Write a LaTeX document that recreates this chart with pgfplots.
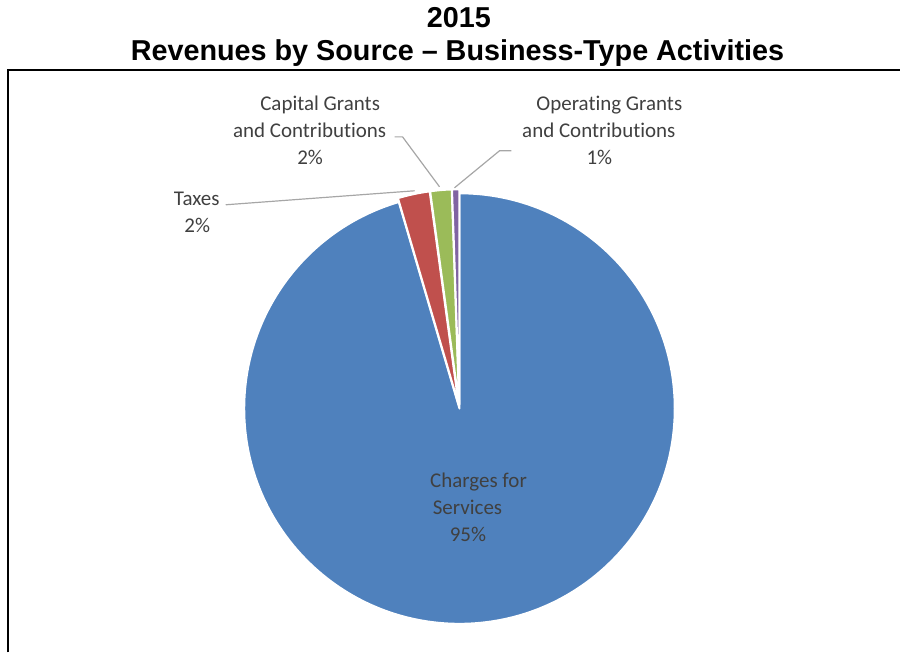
\documentclass[border=0pt]{standalone}
\usepackage{pgfplots}
\pgfplotsset{compat=1.18}
\usepackage{pgfplotstable}
\usepackage{fontspec}
\setmainfont{Carlito}[Ligatures={TeX,NoCommon}]
\newfontfamily\titlefont{Liberation Sans}[Ligatures=TeX]
\definecolor{pie0}{HTML}{4F81BD}
\definecolor{pie1}{HTML}{C0504D}
\definecolor{pie2}{HTML}{9BBB59}
\definecolor{pie3}{HTML}{8064A2}
\definecolor{txt}{HTML}{404040}
\definecolor{leader}{HTML}{A6A6A6}
\newcommand{\lbl}{\fontsize{10.5}{12.6}\selectfont}
\newcommand{\ttl}{\titlefont\bfseries\fontsize{14.4}{16}\selectfont}

% share of revenues, in percent (clockwise from 12 o'clock)
\pgfplotstableread{
name share
Charges 95.45
Taxes 2.40
Capital 1.60
Operating 0.55
}\pietable

\begin{document}
\begin{tikzpicture}
\begin{axis}[
  width=450.5pt, height=326.5pt, scale only axis,
  xmin=0, xmax=901, ymin=0, ymax=653, y dir=reverse,
  hide axis, clip=false,
]
\path (axis cs:0,0) rectangle (axis cs:901,653);
% frame
\draw[black, line width=1pt] (axis cs:8,653) -- (axis cs:8,70) -- (axis cs:901,70);
% title
\node[anchor=base, inner sep=0pt, font=\ttl] at (axis cs:459.5,28) {2015};
\node[anchor=base, inner sep=0pt, font=\ttl] at (axis cs:458,60.5) {Revenues by Source – Business-Type Activities};
% pie wedges from the table
\xdef\cum{0}
\pgfplotsforeachungrouped \i in {0,1,2,3}{%
  \pgfplotstablegetelem{\i}{share}\of\pietable
  \let\sh\pgfplotsretval
  \pgfmathsetmacro{\sa}{90-3.6*\cum}%
  \pgfmathsetmacro{\ea}{90-3.6*(\cum+\sh)}%
  \pgfmathsetmacro{\ma}{(\sa+\ea)/2}%
  \pgfmathsetmacro{\cum}{\cum+\sh}%
  \ifnum\i=0 \def\off{0pt}\else\def\off{2pt}\fi
  \edef\cmd{\noexpand\fill[pie\i, draw=white, line width=1pt, line join=round]
    ([shift={(\ma:\off)}]axis cs:460,409) -- ++(\sa:107.75pt)
    arc[start angle=\sa, end angle=\ea, radius=107.75pt] -- cycle;}%
  \cmd
}
% leader lines
\draw[leader, line width=0.6pt] (axis cs:226,205) -- (axis cs:415,191);
\draw[leader, line width=0.6pt] (axis cs:395,137) -- (axis cs:403,137) -- (axis cs:440,187);
\draw[leader, line width=0.6pt] (axis cs:512,151) -- (axis cs:500,151) -- (axis cs:455,188);
% labels
\tikzset{lab/.style={anchor=base, inner sep=0pt, font=\lbl, text=txt}}
\node[lab] at (axis cs:320.5,111) {Capital Grants};
\node[lab] at (axis cs:310,138) {and Contributions};
\node[lab] at (axis cs:310.5,165) {2\%};
\node[lab] at (axis cs:610,111) {Operating Grants};
\node[lab] at (axis cs:599.5,138) {and Contributions};
\node[lab] at (axis cs:600,165) {1\%};
\node[lab] at (axis cs:197,206) {Taxes};
\node[lab] at (axis cs:197.5,233) {2\%};
\node[lab] at (axis cs:479,488) {Charges for};
\node[lab] at (axis cs:468,515) {Services};
\node[lab] at (axis cs:468.5,542) {95\%};
\end{axis}
\end{tikzpicture}
\end{document}
